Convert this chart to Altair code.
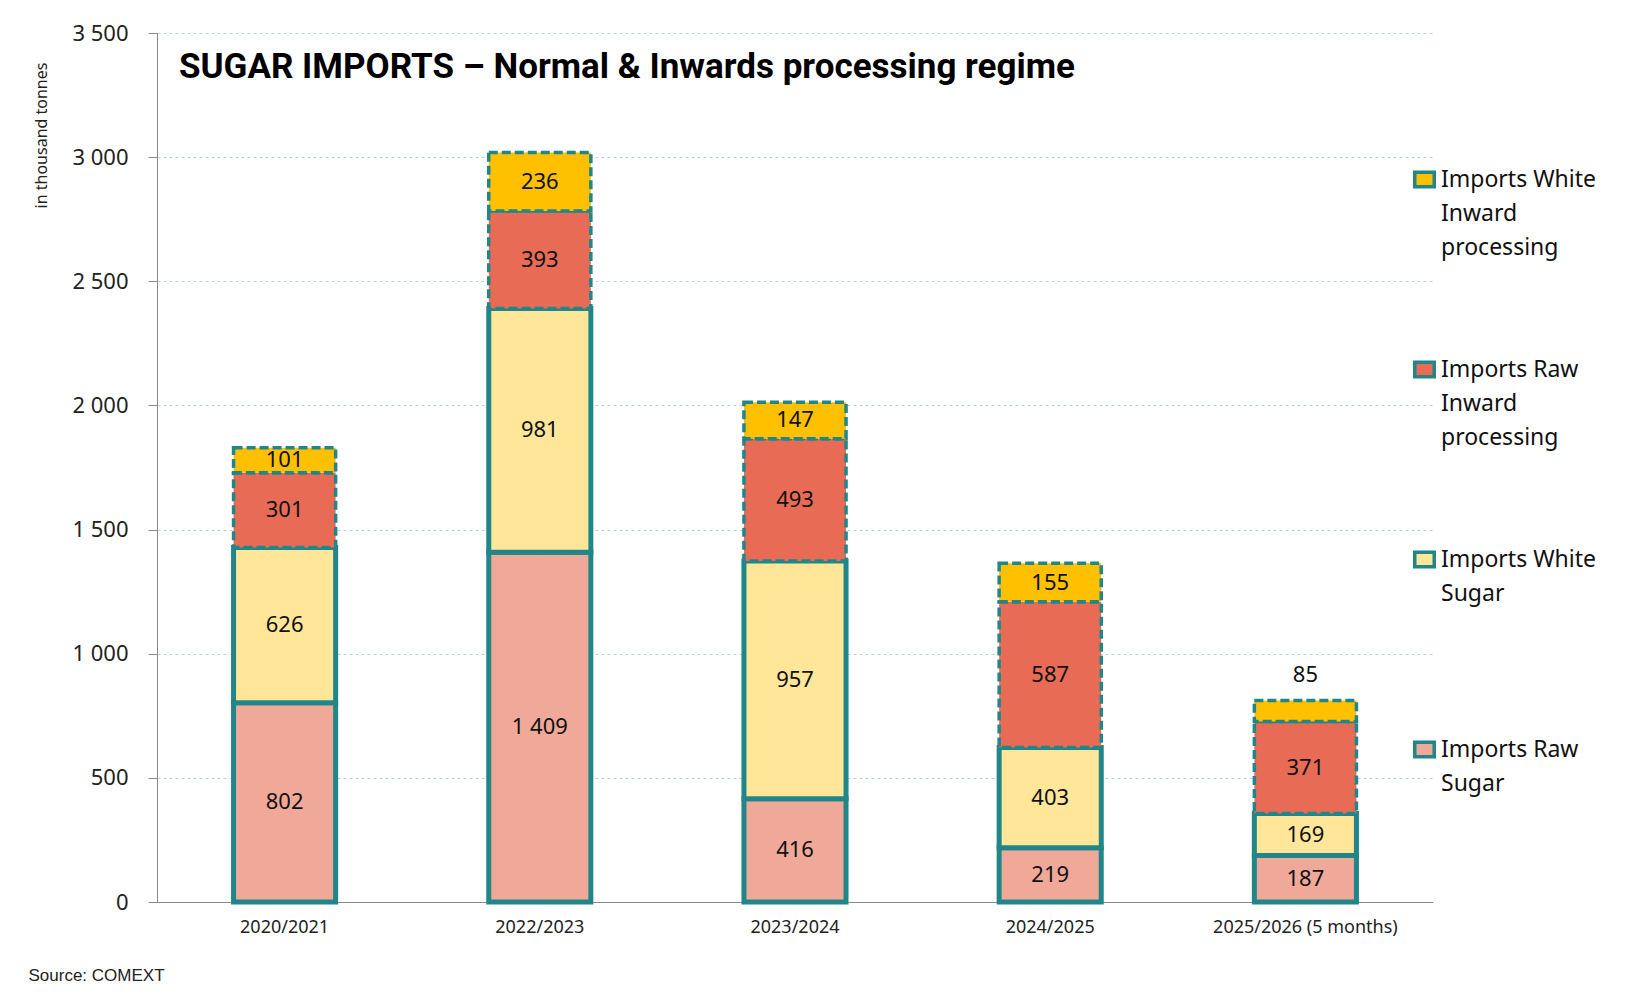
import altair as alt
import pandas as pd

seasons = ["2020/2021", "2022/2023", "2023/2024", "2024/2025", "2025/2026 (5 months)"]
raw_sugar = [802, 1409, 416, 219, 187]
white_sugar = [626, 981, 957, 403, 169]
raw_inward = [301, 393, 493, 587, 371]
white_inward = [101, 236, 147, 155, 85]

series_names = ["Imports Raw Sugar", "Imports White Sugar",
                "Imports Raw Inward processing", "Imports White Inward processing"]
series_values = [raw_sugar, white_sugar, raw_inward, white_inward]
series_kind = ["solid", "solid", "dashed", "dashed"]
series_colors = ["#F0A899", "#FFE699", "#E86C55", "#FFC000"]
# legend label lines (trailing blank lines keep every entry the same height)
legend_lines = {
    "Imports White Inward processing": ["Imports White", "Inward", "processing", "", ""],
    "Imports Raw Inward processing": ["Imports Raw", "Inward", "processing", "", ""],
    "Imports White Sugar": ["Imports White", "Sugar", "", "", ""],
    "Imports Raw Sugar": ["Imports Raw", "Sugar", "", "", ""],
}

rows = []
for k, (name, vals, kind) in enumerate(zip(series_names, series_values, series_kind)):
    for s, v in zip(seasons, vals):
        rows.append({"season": s, "series": name, "value": v, "order": k, "kind": kind})
df = pd.DataFrame(rows)

TEAL = "#218689"
FONT = "Noto Sans"

label_expr = " : ".join(
    [f"datum.label == '{k}' ? {v!r}" for k, v in legend_lines.items()] + ["datum.label"]
)

y_axis = alt.Axis(
    values=[0, 500, 1000, 1500, 2000, 2500, 3000, 3500],
    labelExpr="replace(format(datum.value, ','), ',', ' ')",
    labelFont=FONT, labelFontSize=22, labelColor="#222222", labelPadding=20,
    tickSize=9, tickColor="#8a8a8a", domainColor="#8a8a8a",
    grid=True, gridColor="#B5D6D9", gridDash=[3, 3], gridWidth=1,
    title="in thousand tonnes", titleFont=FONT, titleFontSize=16, titleFontWeight="normal",
    titleColor="#222222", titleAngle=270, titleX=-108, titleY=102, titleAlign="center",
    titleBaseline="bottom",
)

x_axis = alt.Axis(
    labelAngle=0, labelFont=FONT, labelFontSize=18, labelColor="#222222", labelPadding=16,
    labelLimit=400, ticks=False, domainColor="#8a8a8a", grid=False,
    title="Source: COMEXT", titleFont="Liberation Sans", titleFontSize=17,
    titleFontWeight="normal", titleColor="#222222", titleAnchor="start",
    titleAlign="left", titleX=-129, titleY=73, titleBaseline="middle",
)

base = alt.Chart(df).transform_stack(
    stack="value", groupby=["season"], sort=[alt.SortField("order", "ascending")],
    as_=["y0", "y1"]
).transform_calculate(
    mid="(datum.y0 + datum.y1) / 2",
    lbl="replace(format(datum.value, ','), ',', ' ')",
).encode(
    x=alt.X("season:N", sort=seasons, title="Source: COMEXT",
            scale=alt.Scale(paddingInner=0.6, paddingOuter=0.3), axis=x_axis)
)

bars = base.mark_bar(stroke=TEAL).encode(
    y=alt.Y("y0:Q", title="in thousand tonnes",
            scale=alt.Scale(domain=[0, 3500], nice=False), axis=y_axis),
    y2="y1:Q",
    fill=alt.Fill(
        "series:N",
        scale=alt.Scale(domain=series_names, range=series_colors),
        sort=series_names[::-1],
        legend=alt.Legend(
            title=None, orient="none", legendX=1256, legendY=135,
            direction="vertical", columns=1,
            values=series_names[::-1],
            labelExpr=label_expr, labelFont=FONT, labelFontSize=23,
            labelColor="#111111", labelLimit=400, labelBaseline="middle",
            labelOffset=5, rowPadding=27,
            symbolType="M-1,-0.75H1V0.75H-1Z", symbolSize=380,
            symbolStrokeColor=TEAL, symbolStrokeWidth=3.5, symbolOpacity=1,
        ),
    ),
    strokeDash=alt.StrokeDash(
        "kind:N", scale=alt.Scale(domain=["solid", "dashed"], range=[[1, 0], [9, 4]]),
        legend=None),
    strokeWidth=alt.StrokeWidth(
        "kind:N", scale=alt.Scale(domain=["solid", "dashed"], range=[5, 3.5]),
        legend=None),
    order=alt.Order("order:Q"),
)

inner = base.transform_filter("datum.value >= 100").mark_text(
    font=FONT, fontSize=22, color="#111111", baseline="middle", align="center"
).encode(
    y=alt.Y("mid:Q", title="in thousand tonnes"),
    text="lbl:N",
)

outer = base.transform_filter("datum.value < 100").mark_text(
    font=FONT, fontSize=22, color="#111111", baseline="middle", align="center", dy=-25
).encode(
    y=alt.Y("y1:Q", title="in thousand tonnes"),
    text="lbl:N",
)

chart = alt.layer(bars, inner, outer).properties(
    width=1276, height=869,
    title=alt.TitleParams(
        "SUGAR IMPORTS – Normal & Inwards processing regime",
        anchor="start", frame="group", orient="top", offset=0, dx=22, dy=91,
        baseline="alphabetic", font="Roboto", fontSize=35,
        fontWeight="bold", color="#000000",
    ),
    autosize=alt.AutoSizeParams(type="none"),
    padding={"left": 149, "top": 25, "right": 180, "bottom": 80},
    config=alt.Config(
        view=alt.ViewConfig(stroke=None),
        style={"guide-label": {"lineHeight": 34}},
    ),
)

chart.save("out.html", embed_options={"renderer": "svg", "actions": False})
